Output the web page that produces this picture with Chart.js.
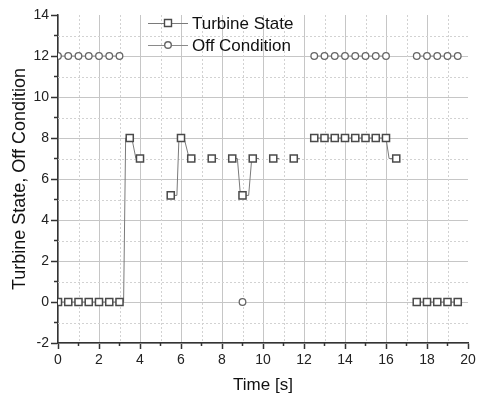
<!DOCTYPE html>
<html>
<head>
<meta charset="utf-8">
<script src="https://cdn.jsdelivr.net/npm/chart.js@4.4.1/dist/chart.umd.min.js"></script>
<style>
  html, body { margin: 0; padding: 0; background: #fff; }
  #wrap { width: 479px; height: 396px; }
</style>
</head>
<body>
<div id="wrap"><canvas id="chart" width="479" height="396"></canvas></div>
<script>
// Dados (null = quebra na linha)
const turbineTime  = [0, 0.5, 1, 1.5, 2, 2.5, 3, 3.2, 3.3, 3.5, 3.6, 3.8, 4, 4.7,
                      5.5, 5.8, 5.9, 6, 6.15, 6.4, 6.5, 6.7, 7.1,
                      7.5, 7.8, 8.1,
                      8.5, 8.75, 8.9, 9, 9.3, 9.45, 9.5, 9.8, 10.1,
                      10.5, 10.8, 11.1,
                      11.5, 11.8, 12.1,
                      12.5, 13, 13.5, 14, 14.5, 15, 15.5, 16, 16.15, 16.5, 17,
                      17.5, 18, 18.5, 19, 19.5];
const turbineState = [0, 0, 0, 0, 0, 0, 0, 0, 8, 8, 8, 7, 7, null,
                      5.2, 5.2, 8, 8, 8, 7, 7, 7, null,
                      7, 7, null,
                      7, 7, 5.2, 5.2, 5.2, 7, 7, 7, null,
                      7, 7, null,
                      7, 7, null,
                      8, 8, 8, 8, 8, 8, 8, 8, 7, 7, null,
                      0, 0, 0, 0, 0];

const offTime  = [0, 0.5, 1, 1.5, 2, 2.5, 3, 6, 9, 11,
                  12.5, 13, 13.5, 14, 14.5, 15, 15.5, 16, 17,
                  17.5, 18, 18.5, 19, 19.5];
const offState = [12, 12, 12, 12, 12, 12, 12, null, 0, null,
                  12, 12, 12, 12, 12, 12, 12, 12, null,
                  12, 12, 12, 12, 12];

const seriesNames = ['Turbine State', 'Off Condition'];
const xTickValues = [0, 2, 4, 6, 8, 10, 12, 14, 16, 18, 20];
const yTickValues = [-2, 0, 2, 4, 6, 8, 10, 12, 14];

const FONT = "'Liberation Sans', Arial, sans-serif";
Chart.defaults.font.family = FONT;

// marcador só nos pontos de 0,5 s
function isMarker(ctx) {
    const p = ctx.raw;
    if (!p || p.y === null) return false;
    return Math.abs(p.x * 2 - Math.round(p.x * 2)) < 1e-6;
}

function toPoints(xs, ys) {
    return xs.map((x, i) => ({ x: x, y: ys[i] }));
}

// grade secundária pontilhada e ticks menores
const minorGrid = {
    id: 'minorGrid',
    beforeDatasetsDraw(chart) {
        const { ctx, chartArea: a, scales } = chart;
        ctx.save();
        ctx.strokeStyle = '#d2d2d2';
        ctx.lineWidth = 1;
        ctx.setLineDash([2, 2]);
        for (let v = xTickValues[0] + 1; v < xTickValues[xTickValues.length - 1]; v += 2) {
            const px = Math.round(scales.x.getPixelForValue(v)) + 0.5;
            ctx.beginPath(); ctx.moveTo(px, a.top); ctx.lineTo(px, a.bottom); ctx.stroke();
        }
        for (let v = yTickValues[0] + 1; v < yTickValues[yTickValues.length - 1]; v += 2) {
            const py = Math.round(scales.y.getPixelForValue(v)) + 0.5;
            ctx.beginPath(); ctx.moveTo(a.left, py); ctx.lineTo(a.right, py); ctx.stroke();
        }
        ctx.setLineDash([]);
        ctx.strokeStyle = '#333';
        ctx.lineWidth = 1.5;
        for (let v = xTickValues[0] + 1; v < xTickValues[xTickValues.length - 1]; v += 2) {
            const px = scales.x.getPixelForValue(v);
            ctx.beginPath(); ctx.moveTo(px, a.bottom); ctx.lineTo(px, a.bottom + 3); ctx.stroke();
        }
        for (let v = yTickValues[0] + 1; v < yTickValues[yTickValues.length - 1]; v += 2) {
            const py = scales.y.getPixelForValue(v);
            ctx.beginPath(); ctx.moveTo(a.left - 4, py); ctx.lineTo(a.left, py); ctx.stroke();
        }
        ctx.restore();
    }
};

// legenda dentro da área do gráfico
const insideLegend = {
    id: 'insideLegend',
    afterDatasetsDraw(chart) {
        const { ctx } = chart;
        const rows = [23, 45];
        ctx.save();
        chart.data.datasets.forEach((ds, i) => {
            const y = rows[i];
            ctx.strokeStyle = ds.borderColor;
            ctx.lineWidth = 1;
            ctx.beginPath(); ctx.moveTo(148, y + 0.5); ctx.lineTo(188, y + 0.5); ctx.stroke();
            ctx.fillStyle = '#fff';
            ctx.strokeStyle = ds.pointBorderColor;
            ctx.lineWidth = 1.4;
            ctx.beginPath();
            if (ds.pointStyle === 'rect') {
                ctx.rect(168 - 3.5, y - 3.5, 7, 7);
            } else {
                ctx.arc(168, y, 3.3, 0, Math.PI * 2);
            }
            ctx.fill(); ctx.stroke();
            ctx.fillStyle = '#111';
            ctx.font = '17px ' + FONT;
            ctx.textBaseline = 'middle';
            ctx.textAlign = 'left';
            ctx.fillText(seriesNames[i], 192, y + 1);
        });
        ctx.restore();
    }
};

const ctx = document.getElementById('chart').getContext('2d');
new Chart(ctx, {
    type: 'line',
    data: {
        datasets: [
            {
                label: seriesNames[0],
                data: toPoints(turbineTime, turbineState),
                borderColor: '#7a7a7a',
                borderWidth: 1,
                pointStyle: 'rect',
                pointRadius: c => isMarker(c) ? 5 : 0,
                pointBorderColor: '#4a4a4a',
                pointBackgroundColor: '#ffffff',
                pointBorderWidth: 1.5,
                spanGaps: false,
                tension: 0
            },
            {
                label: seriesNames[1],
                data: toPoints(offTime, offState),
                borderColor: '#8a8a8a',
                borderWidth: 1,
                pointStyle: 'circle',
                pointRadius: c => isMarker(c) ? 3.3 : 0,
                pointBorderColor: '#666666',
                pointBackgroundColor: '#ffffff',
                pointBorderWidth: 1.3,
                spanGaps: false,
                tension: 0
            }
        ]
    },
    options: {
        responsive: false,
        animation: false,
        events: [],
        layout: { padding: { left: 0, right: 11, top: 15, bottom: 0 } },
        plugins: {
            legend: { display: false },
            tooltip: { enabled: false }
        },
        scales: {
            x: {
                type: 'linear',
                min: xTickValues[0],
                max: xTickValues[xTickValues.length - 1],
                afterBuildTicks: s => { s.ticks = xTickValues.map(v => ({ value: v })); },
                afterFit: s => { s.height = 53; },
                grid: {
                    color: c => (c.tick && c.tick.value === xTickValues[xTickValues.length - 1]) ? 'rgba(0,0,0,0)' : '#c6c6c6',
                    lineWidth: 1,
                    tickColor: '#333',
                    tickLength: 6,
                    tickWidth: 1.5
                },
                border: { color: '#333', width: 1.5 },
                ticks: { color: '#222', font: { size: 14 }, padding: 3, maxRotation: 0, autoSkip: false },
                title: { display: true, text: 'Time [s]', color: '#111', font: { size: 17 }, padding: 0 }
            },
            y: {
                type: 'linear',
                min: yTickValues[0],
                max: yTickValues[yTickValues.length - 1],
                afterBuildTicks: s => { s.ticks = yTickValues.map(v => ({ value: v })); },
                afterFit: s => { s.width = 58; },
                grid: {
                    color: c => (c.tick && c.tick.value === yTickValues[yTickValues.length - 1]) ? 'rgba(0,0,0,0)' : '#c6c6c6',
                    lineWidth: 1,
                    tickColor: '#333',
                    tickLength: 7,
                    tickWidth: 1.5
                },
                border: { color: '#333', width: 1.5 },
                ticks: { color: '#222', font: { size: 14 }, padding: 2, autoSkip: false },
                title: { display: true, text: 'Turbine State, Off Condition', color: '#111', font: { size: 18 }, padding: { top: 9, bottom: 0 } }
            }
        }
    },
    plugins: [minorGrid, insideLegend]
});
</script>
</body>
</html>
